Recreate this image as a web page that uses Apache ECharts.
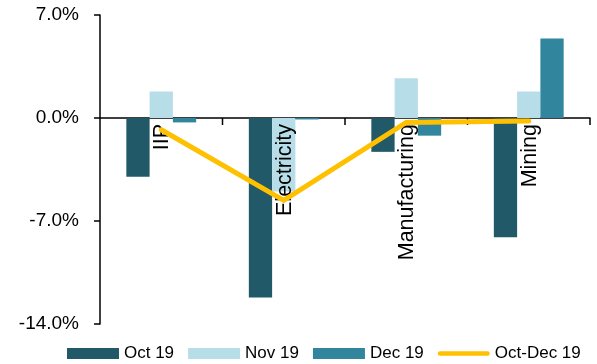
<!DOCTYPE html>
<html>
<head>
<meta charset="utf-8">
<script src="https://cdn.jsdelivr.net/npm/echarts@6/dist/echarts.min.js"></script>
<style>
  html, body { margin: 0; padding: 0; background: #ffffff; }
  #chart { width: 597px; height: 364px; }
</style>
</head>
<body>
<div id="chart"></div>
<script>
const categories = ['IIP', 'Electricity', 'Manufacturing', 'Mining'];
const oct19 = [-4.0, -12.2, -2.3, -8.1];
const nov19 = [1.8, -5.0, 2.7, 1.8];
const dec19 = [-0.3, -0.1, -1.2, 5.4];
const octDec19 = [-0.8, -5.6, -0.3, -0.2];
const yTicks = { min: -14, max: 7, interval: 7 };

const FONT = '"Liberation Sans", Arial, sans-serif';
const chart = echarts.init(document.getElementById('chart'), null, { renderer: 'canvas' });

// Category labels and boundary ticks drawn at the zero line via the axes' own scales
function renderCategoryLabel(params, api) {
  const idx = api.value(0);
  const p = api.coord([idx, 0]);
  const band = api.size([1, 0])[0];
  const xr = p[0] + band / 2;
  return {
    type: 'group',
    children: [
      {
        type: 'line',
        shape: { x1: xr, y1: p[1], x2: xr, y2: p[1] + 7 },
        style: { stroke: '#000000', lineWidth: 1.5 }
      },
      {
        type: 'text',
        x: p[0] + 1,
        y: p[1] + 6,
        rotation: Math.PI / 2,
        z2: 10,
        style: {
          text: categories[idx],
          align: 'right',
          verticalAlign: 'middle',
          font: '21.5px ' + FONT,
          fill: '#000000'
        }
      }
    ]
  };
}

chart.setOption({
  animation: false,
  backgroundColor: '#ffffff',
  textStyle: { fontFamily: FONT, color: '#000000' },
  grid: { left: 100, right: 7, top: 15, bottom: 40, containLabel: false, outerBoundsMode: 'none' },
  legend: {
    left: 67,
    top: 345,
    padding: 0,
    itemWidth: 52,
    itemHeight: 11,
    itemGap: 14,
    textStyle: { fontFamily: FONT, fontSize: 17, color: '#000000' },
    data: [
      { name: 'Oct 19', icon: 'rect' },
      { name: 'Nov 19', icon: 'rect' },
      { name: 'Dec 19', icon: 'rect' },
      { name: 'Oct-Dec 19', icon: 'path://M2.5,0 H53.5 A2.5,2.5 0 0 1 53.5,5 H2.5 A2.5,2.5 0 0 1 2.5,0 Z' }
    ]
  },
  xAxis: {
    type: 'category',
    data: categories,
    boundaryGap: true,
    axisLine: { onZero: true, lineStyle: { color: '#000000', width: 1.5 } },
    axisTick: { show: false },
    axisLabel: { show: false },
    splitLine: { show: false }
  },
  yAxis: {
    type: 'value',
    min: yTicks.min,
    max: yTicks.max,
    interval: yTicks.interval,
    axisLine: { show: true, lineStyle: { color: '#000000', width: 1.5 } },
    axisTick: { show: true, length: 6, lineStyle: { color: '#000000', width: 1.5 } },
    axisLabel: {
      margin: 21,
      fontFamily: FONT,
      fontSize: 19,
      color: '#000000',
      formatter: v => v.toFixed(1) + '%'
    },
    splitLine: { show: false }
  },
  series: [
    { name: 'Oct 19', type: 'bar', data: oct19, barGap: '0%', barCategoryGap: '43%',
      itemStyle: { color: '#215968' } },
    { name: 'Nov 19', type: 'bar', data: nov19, barGap: '0%', barCategoryGap: '43%',
      itemStyle: { color: '#B7DEE8' } },
    { name: 'Dec 19', type: 'bar', data: dec19, barGap: '0%', barCategoryGap: '43%',
      itemStyle: { color: '#31859C' } },
    { name: 'Oct-Dec 19', type: 'line', data: octDec19, symbol: 'none', showSymbol: false,
      z: 5,
      lineStyle: { color: '#FFC000', width: 5, cap: 'round', join: 'miter' },
      itemStyle: { color: '#FFC000' } },
    { type: 'custom', z: 4, silent: true,
      data: categories.map((c, i) => [i]),
      encode: { x: 0 },
      renderItem: renderCategoryLabel }
  ]
});
</script>
</body>
</html>
